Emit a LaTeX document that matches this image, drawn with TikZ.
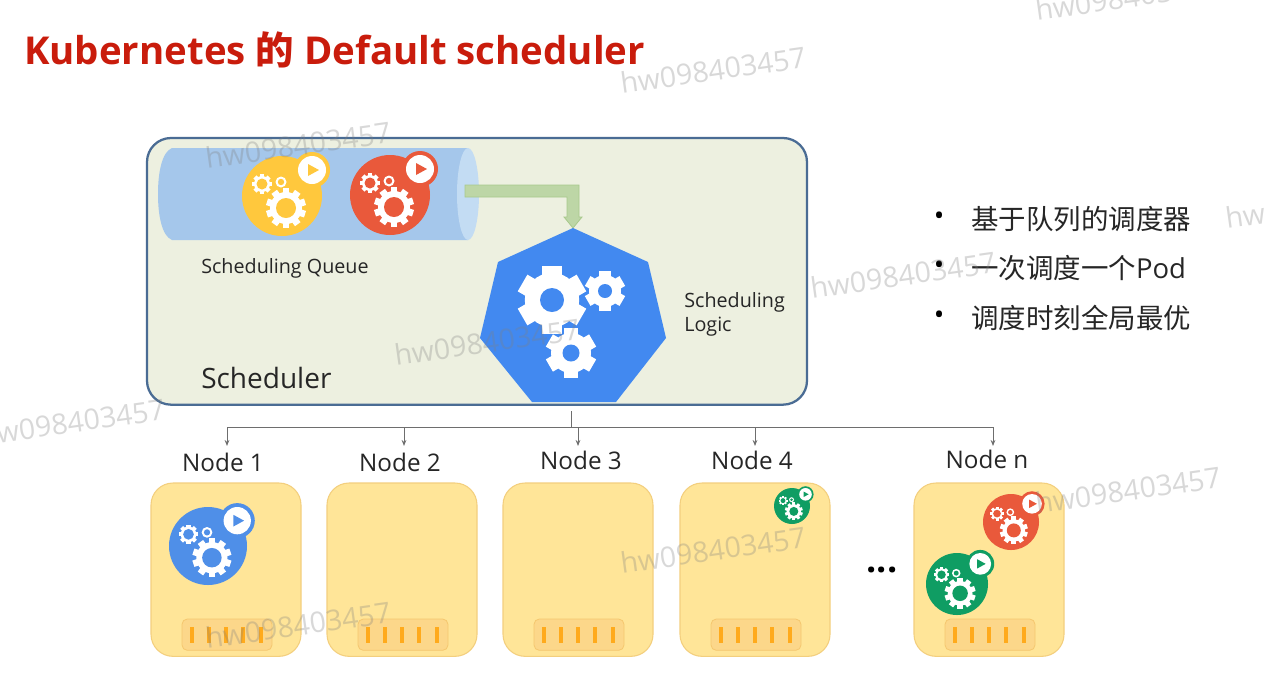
\documentclass[tikz,border=0pt]{standalone}
\usepackage{fontspec}
\setmainfont{Open Sans}
\newfontfamily\cjk{Noto Sans CJK SC}
\usetikzlibrary{arrows.meta}
\definecolor{titlered}{HTML}{C91C0C}
\definecolor{panelfill}{HTML}{EDF0E0}
\definecolor{panelline}{HTML}{4A6C94}
\definecolor{pipe}{HTML}{A5C7EB}
\definecolor{pipeend}{HTML}{C3DCF3}
\definecolor{flow}{HTML}{BDD6A6}
\definecolor{flowline}{HTML}{A8C98C}
\definecolor{kblue}{HTML}{4289F0}
\definecolor{podblue}{HTML}{4F8FE8}
\definecolor{podyellow}{HTML}{FFC83D}
\definecolor{podred}{HTML}{E9593B}
\definecolor{podgreen}{HTML}{0F9D63}
\definecolor{nodefill}{HTML}{FFE598}
\definecolor{nodeline}{HTML}{F3CF7E}
\definecolor{portfill}{HTML}{FCD78A}
\definecolor{portline}{HTML}{F5C76F}
\definecolor{tickcol}{HTML}{FFAA1C}
\definecolor{wire}{HTML}{6E6E6E}
\tikzset{
  x=0.75pt,y=-0.75pt,
  panel/.style={draw=panelline,line width=1.7pt,fill=panelfill,rounded corners=18pt,outer sep=0pt},
  nodebox/.style={draw=nodeline,line width=0.8pt,fill=nodefill,rounded corners=16.5pt,outer sep=0pt},
  portbox/.style={draw=portline,line width=0.6pt,fill=portfill,rounded corners=4pt,outer sep=0pt},
  porttick/.style={draw=tickcol,line width=2.4pt},
  wirel/.style={draw=wire,line width=0.75pt},
  wirea/.style={wirel,-{Stealth[length=4.5pt,width=3.5pt]}},
  lab/.style={inner sep=0pt,anchor=west,text=black!85,font=\fontsize{14.8}{18}\selectfont},
  nodelab/.style={inner sep=0pt,text=black!85,font=\fontsize{18.2}{20}\selectfont},
  bullettext/.style={inner sep=0pt,anchor=west,text=black!85,font=\fontsize{20.6}{24}\selectfont},
  wm/.style={inner sep=0pt,text=gray,opacity=0.3,rotate=8,font=\fontsize{21.4}{24}\selectfont},
}
\newcommand{\gearicon}[6]{% x y r teeth holeR holecolor
  \begin{scope}[shift={(#1,#2)}]
    \fill[white] (0,0) circle[radius={#3*0.8}];
    \foreach \a in {1,...,#4}
      \fill[white,rotate={\a*360/#4}] ({-#3*1.7/#4},0) rectangle ({#3*1.7/#4},#3);
    \fill[#6] (0,0) circle[radius=#5];
  \end{scope}}
\newcommand{\podicon}[4]{% x y radius colour
  \begin{scope}[shift={(#1,#2)},scale={#3/40}]
    \fill[#4] (0,0) circle[radius=40];
    \fill[#4] (30,-26) circle[radius=18];
    \fill[white] (30,-26) circle[radius=14];
    \fill[#4] (26,-32) -- (37,-26) -- (26,-20) -- cycle;
    \gearicon{4}{12}{20}{10}{10}{#4}
    \gearicon{-20}{-12}{10}{8}{5.5}{#4}
    \fill[white] (-1,-14) circle[radius=5.5];
    \fill[#4] (-1,-14) circle[radius=3.2];
  \end{scope}}
\newcommand{\portticks}[1]{%
  \begin{scope}[shift={(#1,0)}]
    \foreach \t in {10,27,44,61,79}
      \draw[porttick] (\t,627) -- (\t,643);
  \end{scope}}
\begin{document}
\begin{tikzpicture}
\useasboundingbox (0,0) rectangle (1266,676);
\clip (0,0) rectangle (1266,676);
\fill[white] (0,0) rectangle (1266,676);

\node[inner sep=0pt,anchor=west,text=titlered,font=\fontsize{28.8}{36}\selectfont\bfseries] (title) at (24,50) {Kubernetes {\cjk 的} Default scheduler};

% Scheduler panel
\node[panel,minimum width=495pt,minimum height=200pt,inner sep=0pt,anchor=north west] (sched) at (147,138) {};

% Queue cylinder
\fill[pipe] (172,148) -- (468,148) -- (468,240) -- (172,240)
  .. controls (162,236) and (158,216) .. (158,194) .. controls (158,172) and (162,152) .. (172,148) -- cycle;
\fill[pipeend] (468,194) ellipse[x radius=11,y radius=46];
\podicon{282}{196}{40}{podyellow}
\podicon{390}{195}{40}{podred}

% Flow arrow
\draw[flowline,fill=flow,line width=0.6pt,line join=miter]
  (465,185) -- (579,185) -- (579,217) -- (582,217) -- (573,228) -- (564,217) -- (567,217) -- (567,197) -- (465,197) -- cycle;

% Logic heptagon
\fill[kblue] (573,228) -- (648,262) -- (666,338) -- (616,402) -- (532,402) -- (480,338) -- (498,262) -- cycle;
\coordinate (logicbottom) at (571,411);
\gearicon{552}{300}{34}{6}{12}{kblue}
\gearicon{605}{291}{20}{6}{7}{kblue}
\gearicon{571}{353}{25}{6}{8.5}{kblue}

\node[lab] (lqueue) at (201,268) {Scheduling Queue};
\node[lab,align=left] (llogic) at (684,314) {Scheduling\\Logic};
\node[inner sep=0pt,anchor=west,text=black!85,font=\fontsize{21}{26}\selectfont] (lsched) at (201,378) {Scheduler};

% Node labels
\node[nodelab] (n1) at (223,462) {Node 1};
\node[nodelab] (n2) at (400,462) {Node 2};
\node[nodelab] (n3) at (581,460) {Node 3};
\node[nodelab] (n4) at (752,460) {Node 4};
\node[nodelab] (n5) at (987,459) {Node n};

% Connectors
\coordinate (bus) at (571,427);
\coordinate (busl) at (227,427);
\coordinate (busr) at (993,427);
\coordinate (t1) at (227,446);
\coordinate (t2) at (404,446);
\coordinate (t3) at (578,446);
\coordinate (t4) at (755,446);
\coordinate (t5) at (993,446);
\draw[wirel] (logicbottom) -- (bus);
\draw[wirel] (busl) -- (busr);
\draw[wirea] (busl) -- (t1);
\draw[wirea] (t2 |- bus) -- (t2);
\draw[wirea] (t3 |- bus) -- (t3);
\draw[wirea] (t4 |- bus) -- (t4);
\draw[wirea] (busr) -- (t5);

% Node boxes
\foreach \nm/\xx in {box1/151,box2/327,box3/503,box4/680,box5/914}{
  \node[nodebox,minimum width=112.5pt,minimum height=130pt,inner sep=0pt,anchor=north west] (\nm) at (\xx,483) {};
  \node[portbox,minimum width=67.5pt,minimum height=23.5pt,inner sep=0pt,anchor=north west] (\nm p) at ({\xx+31},619) {};
  \portticks{\xx+31}
}
\podicon{208}{546}{39}{podblue}
\podicon{792}{506}{18}{podgreen}
\podicon{1011}{522}{28}{podred}
\podicon{957}{584}{31}{podgreen}

% Ellipsis
\node[inner sep=0pt,font=\fontsize{27}{27}\selectfont\bfseries] (dots) at (882,570) {...};

% Bullets
\foreach \nm/\yy in {b1/219,b2/268,b3/318}
  \node[inner sep=0pt,font=\fontsize{21}{21}\selectfont] (\nm) at (939,\yy) {•};
\node[bullettext] (s1) at (971,219) {\cjk 基于队列的调度器};
\node[bullettext] (s2) at (971,268) {{\cjk 一次调度一个}Pod};
\node[bullettext] (s3) at (971,318) {\cjk 调度时刻全局最优};

% Watermarks
\node[wm] (w1) at (713,70) {hw098403457};
\node[wm] (w2) at (1128,-3) {hw098403457};
\node[wm] (w3) at (298,145) {hw098403457};
\node[wm] (w4) at (1318,205) {hw098403457};
\node[wm] (w5) at (903,275) {hw098403457};
\node[wm] (w6) at (487,342) {hw098403457};
\node[wm] (w7) at (72,422) {hw098403457};
\node[wm] (w8) at (1128,490) {hw098403457};
\node[wm] (w9) at (713,550) {hw098403457};
\node[wm] (w10) at (298,625) {hw098403457};
\end{tikzpicture}
\end{document}
